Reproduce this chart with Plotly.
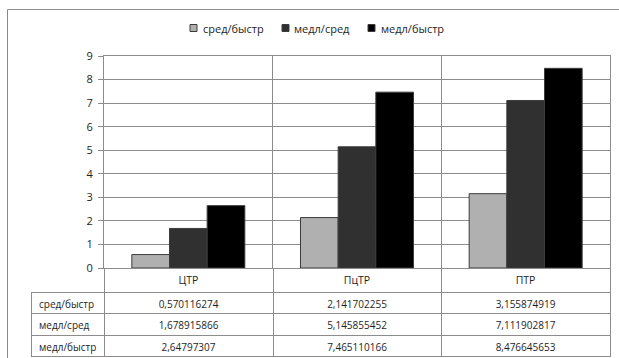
import plotly.graph_objects as go

# ---- data ----
categories = ["ЦТР", "ПцТР", "ПТР"]
series_names = ["сред/быстр", "медл/сред", "медл/быстр"]
sred_bystr = [0.570116274, 2.141702255, 3.155874919]
medl_sred = [1.678915866, 5.145855452, 7.111902817]
medl_bystr = [2.64797307, 7.465110166, 8.476645653]
y_ticks = [0, 1, 2, 3, 4, 5, 6, 7, 8, 9]

series_values = [sred_bystr, medl_sred, medl_bystr]
colors = ["#B0B0B0", "#303030", "#000000"]

W, H = 619, 358
GRID = "#8C8C8C"
FONT = "Open Sans"
TXT = "#1E1E1E"
CLEAR = "rgba(0,0,0,0)"

def px_x(p):
    return p / W

def px_y(p):
    return 1 - p / H

x_pos = list(range(len(categories)))

fig = go.Figure()
for name, vals, col in zip(series_names, series_values, colors):
    fig.add_trace(go.Bar(
        x=x_pos, y=vals, name=name, showlegend=False,
        marker=dict(color=col, line=dict(color="#3C3C3C", width=1)),
    ))

# data table under the plot: header row holds category names
def fmt(v):
    return repr(v).replace(".", ",")

table_cols = [series_names] + [
    [fmt(s[i]) for s in series_values] for i in range(len(categories))
]
fig.add_trace(go.Table(
    domain=dict(x=[px_x(31), px_x(610)], y=[0, px_y(268)]),
    columnwidth=[73, 169, 168, 169],
    header=dict(
        values=[""] + categories,
        height=24,
        align="center",
        fill=dict(color=CLEAR),
        line=dict(color=[CLEAR, GRID, GRID, GRID], width=1),
        font=dict(family=FONT, size=10.5, color=TXT),
    ),
    cells=dict(
        values=table_cols,
        height=21.6,
        align=["left", "center", "center", "center"],
        fill=dict(color="white"),
        line=dict(color=GRID, width=1),
        font=dict(family=FONT, size=10, color=TXT),
    ),
))

# legend drawn as swatches + labels
legend_sq_x = [190, 282, 368]
legend_txt_x = [201, 292, 379]
legend_y = 28
for name, col, sx, tx in zip(series_names, colors, legend_sq_x, legend_txt_x):
    fig.add_shape(type="rect", xref="paper", yref="paper",
                  x0=px_x(sx), x1=px_x(sx + 7),
                  y0=px_y(legend_y + 3.5), y1=px_y(legend_y - 3.5),
                  fillcolor=col, line=dict(color="#3C3C3C", width=1))
    fig.add_annotation(x=px_x(tx), y=px_y(legend_y), xref="paper", yref="paper",
                       text=name, showarrow=False, xanchor="left", yanchor="middle",
                       font=dict(family=FONT, size=11, color=TXT))

# outer chart frame
fig.add_shape(type="rect", xref="paper", yref="paper",
              x0=px_x(7.5), x1=1.05, y0=-0.05, y1=px_y(9.5),
              line=dict(color="#8A8A8A", width=1), layer="below")

fig.update_layout(
    template="none",
    width=W, height=H,
    margin=dict(l=0, r=0, t=0, b=0, pad=0, autoexpand=False),
    paper_bgcolor="white", plot_bgcolor="white",
    barmode="group", bargap=0.33, bargroupgap=0,
    xaxis=dict(
        domain=[px_x(104), px_x(610)],
        range=[-0.5, 2.5], automargin=False,
        tickvals=[-0.5, 0.5, 1.5, 2.5],
        showticklabels=False, ticks="",
        showgrid=True, gridcolor=GRID, gridwidth=1,
        zeroline=False, showline=True, linecolor=GRID, linewidth=1, mirror=True,
    ),
    yaxis=dict(
        domain=[px_y(268), px_y(56)],
        range=[0, 9], tickvals=y_ticks, automargin=False,
        ticks="outside", ticklen=5, tickcolor=GRID, ticklabelstandoff=3,
        showgrid=True, gridcolor=GRID, gridwidth=1,
        zeroline=False, showline=True, linecolor=GRID, linewidth=1, mirror=True,
        tickfont=dict(family=FONT, size=11, color=TXT),
    ),
)

fig.write_html("out.html")
